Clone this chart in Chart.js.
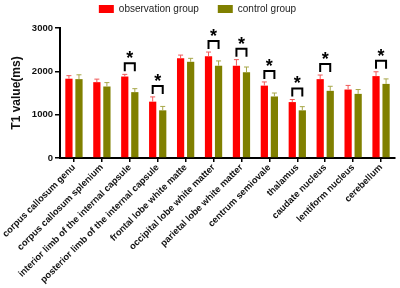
<!DOCTYPE html>
<html>
<head>
<meta charset="utf-8">
<script src="https://cdn.jsdelivr.net/npm/chart.js@4"></script>
<style>
  html, body { margin: 0; padding: 0; background: #fff; }
  #wrap { width: 400px; height: 288px; }
</style>
</head>
<body>
<div id="wrap"><canvas id="t1Chart" width="400" height="288"></canvas></div>
<script>
const regions = [
  "corpus callosum genu",
  "corpus callosum splenium",
  "interior limb of the internal capsule",
  "posterior limb of the internal capsule",
  "frontal lobe white matte",
  "occipital lobe white matter",
  "parietal lobe white matter",
  "centrum semiovale",
  "thalamus",
  "caudate nucleus",
  "lentiform nucleus",
  "cerebellum"
];
const obsMean = [1830, 1750, 1880, 1300, 2300, 2350, 2130, 1670, 1290, 1820, 1580, 1890];
const obsErr  = [70, 70, 50, 110, 75, 95, 140, 85, 60, 95, 95, 100];
const ctrlMean = [1820, 1650, 1520, 1100, 2220, 2130, 1980, 1420, 1100, 1550, 1480, 1710];
const ctrlErr  = [100, 90, 80, 90, 80, 110, 120, 80, 85, 105, 100, 115];
const significant = [0, 0, 1, 1, 0, 1, 1, 1, 1, 1, 0, 1];
const yTicks = [0, 1000, 2000, 3000];

const FONT = "'Liberation Sans', Arial, sans-serif";
const errColors = ["#f05a5a", "#a8a84a"];
const errs = [obsErr, ctrlErr];
const means = [obsMean, ctrlMean];

// a bit more room below the legend
const legendGap = {
  id: "legendGap",
  beforeInit(chart) {
    const fit = chart.legend.fit;
    chart.legend.fit = function () {
      fit.call(this);
      this.height += 4;
    };
  }
};

// error bars + significance brackets
const extras = {
  id: "extras",
  afterDatasetsDraw(chart) {
    const ctx = chart.ctx;
    const y = chart.scales.y;
    ctx.save();
    for (let d = 0; d < 2; d++) {
      const meta = chart.getDatasetMeta(d);
      meta.data.forEach((bar, i) => {
        const top = y.getPixelForValue(means[d][i] + errs[d][i]);
        ctx.strokeStyle = errColors[d];
        ctx.lineWidth = 1;
        ctx.beginPath();
        ctx.moveTo(bar.x, bar.y);
        ctx.lineTo(bar.x, top);
        ctx.moveTo(bar.x - 2.5, top);
        ctx.lineTo(bar.x + 2.5, top);
        ctx.stroke();
      });
    }
    const m0 = chart.getDatasetMeta(0), m1 = chart.getDatasetMeta(1);
    significant.forEach((s, i) => {
      if (!s) return;
      const x0 = m0.data[i].x, x1 = m1.data[i].x;
      const errTop = y.getPixelForValue(obsMean[i] + obsErr[i]);
      const bTop = errTop - 11;
      ctx.strokeStyle = "#000";
      ctx.lineWidth = 2;
      ctx.beginPath();
      ctx.moveTo(x0, bTop + 8);
      ctx.lineTo(x0, bTop);
      ctx.lineTo(x1, bTop);
      ctx.lineTo(x1, bTop + 8);
      ctx.stroke();
      ctx.fillStyle = "#000";
      ctx.font = "bold 18px " + FONT;
      ctx.textAlign = "center";
      ctx.textBaseline = "middle";
      ctx.fillText("*", (x0 + x1) / 2, bTop - 4);
    });
    ctx.restore();
  }
};

new Chart(document.getElementById("t1Chart"), {
  type: "bar",
  data: {
    labels: regions,
    datasets: [
      { label: "observation group", data: obsMean, backgroundColor: "#ff0000",
        categoryPercentage: 0.72, barPercentage: 0.72 },
      { label: "control group", data: ctrlMean, backgroundColor: "#808000",
        categoryPercentage: 0.72, barPercentage: 0.72 }
    ]
  },
  options: {
    responsive: false,
    animation: false,
    layout: { padding: { top: -1, right: 5, left: 0, bottom: 0 } },
    plugins: {
      legend: {
        position: "top",
        labels: {
          boxWidth: 15, boxHeight: 8, padding: 5, color: "#222",
          font: { family: FONT, size: 10 },
          generateLabels(chart) {
            const items = Chart.defaults.plugins.legend.labels.generateLabels(chart);
            items[0].text += "     "; // gap between the two entries
            return items;
          }
        }
      },
      tooltip: { enabled: false }
    },
    scales: {
      x: {
        afterFit: (scale) => { scale.height = 130; },
        grid: { display: true, offset: false, drawOnChartArea: false, drawTicks: true,
                tickLength: 4, color: "#000", lineWidth: 1.5 },
        border: { color: "#000", width: 2 },
        ticks: {
          minRotation: 45, maxRotation: 45, color: "#111", padding: 0,
          font: { family: FONT, size: 9.3, weight: "bold" }
        }
      },
      y: {
        min: 0, max: 3000,
        afterFit: (scale) => { scale.width = 60; },
        afterBuildTicks: (axis) => { axis.ticks = yTicks.map(v => ({ value: v })); },
        grid: { display: true, drawOnChartArea: false, drawTicks: true,
                tickLength: 5, color: "#000", lineWidth: 1.5 },
        border: { color: "#000", width: 2 },
        ticks: {
          color: "#111", padding: 2,
          callback: (v) => String(v),
          font: { family: FONT, size: 9.5, weight: "bold" }
        },
        title: {
          display: true, text: "T1 value(ms)", color: "#111", padding: { top: 9, bottom: 4 },
          font: { family: FONT, size: 12, weight: "bold" }
        }
      }
    }
  },
  plugins: [legendGap, extras]
});
</script>
</body>
</html>
